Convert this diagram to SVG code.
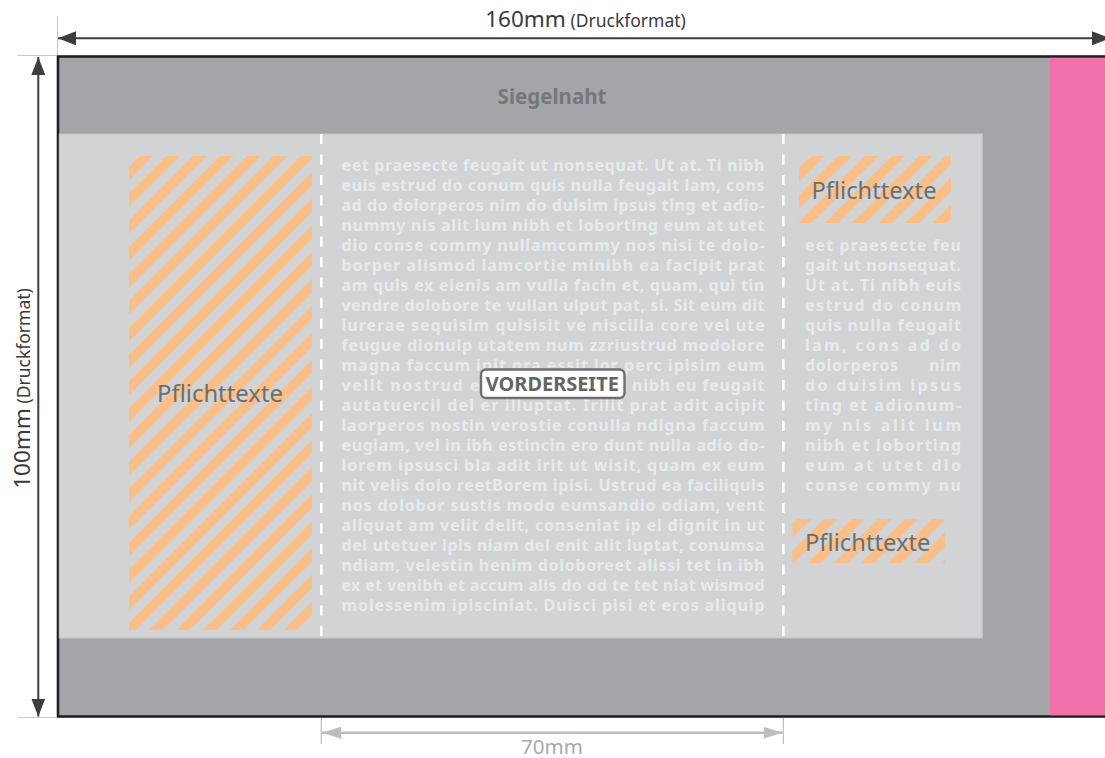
<svg xmlns="http://www.w3.org/2000/svg" width="1105" height="758" viewBox="0 0 1105 758">
<style>
.body{font-family:"Noto Sans","Liberation Sans",sans-serif;font-weight:700;font-size:16px;fill:#e8e9ea}
.pf{font-family:"Noto Sans","Liberation Sans",sans-serif;font-size:23px;fill:#6d6e71}
.dim{font-family:"Noto Sans","Liberation Sans",sans-serif;fill:#3a3a3a}
.ext{stroke:#c8c9cb;stroke-width:1.2}
.dash{stroke:#ffffff;stroke-width:2.6;stroke-dasharray:10 10.5}
</style>
<defs>
<pattern id="hatch" width="19" height="19" patternUnits="userSpaceOnUse" patternTransform="rotate(45)">
<rect width="9.5" height="19" fill="#fbbe86"/>
</pattern>
<marker id="ah" viewBox="0 0 18 14" markerWidth="18" markerHeight="14" refX="18" refY="7" markerUnits="userSpaceOnUse" orient="auto-start-reverse">
<path d="M0,0 L18,7 L0,14 z" fill="#3d3d3d"/>
</marker>
<marker id="ahg" viewBox="0 0 19 12" markerWidth="19" markerHeight="12" refX="19" refY="6" markerUnits="userSpaceOnUse" orient="auto-start-reverse">
<path d="M0,0 L19,6 L0,12 z" fill="#bcbdc0"/>
</marker>
</defs>

<g id="format">
<rect x="58" y="56.5" width="1100" height="660" fill="#a4a5a8" stroke="#231f20" stroke-width="2.6"/>
<rect x="1050" y="57.8" width="60" height="657.5" fill="#f070a9"/>
<text x="552" y="103.5" text-anchor="middle" font-family="Noto Sans, Liberation Sans, sans-serif" font-weight="700" font-size="20.5" fill="#76777a">Siegelnaht</text>
</g>

<g id="panel">
<rect x="59.3" y="134" width="923" height="504" fill="#d1d3d4" stroke="#c3c4c6" stroke-width="1"/>
<line class="dash" x1="321.3" y1="134" x2="321.3" y2="638"/>
<line class="dash" x1="783.3" y1="134" x2="783.3" y2="638"/>
</g>

<g id="pflicht-left">
<rect x="129" y="156" width="183" height="474" fill="url(#hatch)"/>
<text class="pf" x="157" y="402" textLength="126" lengthAdjust="spacingAndGlyphs">Pflichttexte</text>
</g>

<g id="pflicht-right-top">
<rect x="799" y="156" width="152" height="67" fill="url(#hatch)"/>
<text class="pf" x="811.5" y="199" textLength="125" lengthAdjust="spacingAndGlyphs">Pflichttexte</text>
</g>

<g id="pflicht-right-bottom">
<rect x="792.5" y="519" width="152.5" height="44" fill="url(#hatch)"/>
<text class="pf" x="805" y="550.5" textLength="125.5" lengthAdjust="spacingAndGlyphs">Pflichttexte</text>
</g>

<g id="text-middle" class="body">
<text x="341.5" y="171" textLength="423" lengthAdjust="spacing">eet praesecte feugait ut nonsequat. Ut at. Ti nibh</text>
<text x="341.5" y="191" textLength="423" lengthAdjust="spacing">euis estrud do conum quis nulla feugait lam, cons</text>
<text x="341.5" y="211" textLength="423" lengthAdjust="spacing">ad do dolorperos nim do duisim ipsus ting et adio-</text>
<text x="341.5" y="231" textLength="423" lengthAdjust="spacing">nummy nis alit lum nibh et loborting eum at utet</text>
<text x="341.5" y="251" textLength="423" lengthAdjust="spacing">dio conse commy nullamcommy nos nisi te dolo-</text>
<text x="341.5" y="271" textLength="423" lengthAdjust="spacing">borper alismod iamcortie minibh ea facipit prat</text>
<text x="341.5" y="291" textLength="423" lengthAdjust="spacing">am quis ex elenis am vulla facin et, quam, qui tin</text>
<text x="341.5" y="311" textLength="423" lengthAdjust="spacing">vendre dolobore te vullan ulput pat, si. Sit eum dit</text>
<text x="341.5" y="331" textLength="423" lengthAdjust="spacing">iurerae sequisim quisisit ve niscilla core vel ute</text>
<text x="341.5" y="351" textLength="423" lengthAdjust="spacing">feugue dionulp utatem num zzriustrud modolore</text>
<text x="341.5" y="371" textLength="423" lengthAdjust="spacing">magna faccum init pra essit lor perc ipisim eum</text>
<text y="391"><tspan x="341.5" textLength="150" lengthAdjust="spacing">velit nostrud en</tspan><tspan x="632" textLength="132.5" lengthAdjust="spacing">nibh eu feugait</tspan></text>
<text x="341.5" y="411" textLength="423" lengthAdjust="spacing">autatuercil del er illuptat. Irilit prat adit acipit</text>
<text x="341.5" y="431" textLength="423" lengthAdjust="spacing">laorperos nostin verostie conulla ndigna faccum</text>
<text x="341.5" y="451" textLength="423" lengthAdjust="spacing">eugiam, vel in ibh estincin ero dunt nulla adio do-</text>
<text x="341.5" y="471" textLength="423" lengthAdjust="spacing">lorem ipsusci bla adit irit ut wisit, quam ex eum</text>
<text x="341.5" y="491" textLength="423" lengthAdjust="spacing">nit velis dolo reetBorem ipisi. Ustrud ea faciliquis</text>
<text x="341.5" y="511" textLength="423" lengthAdjust="spacing">nos dolobor sustis modo eumsandio odiam, vent</text>
<text x="341.5" y="531" textLength="423" lengthAdjust="spacing">aliquat am velit delit, conseniat ip el dignit in ut</text>
<text x="341.5" y="551" textLength="423" lengthAdjust="spacing">del utetuer ipis niam del enit alit luptat, conumsa</text>
<text x="341.5" y="571" textLength="423" lengthAdjust="spacing">ndiam, velestin henim doloboreet alissi tet in ibh</text>
<text x="341.5" y="591" textLength="423" lengthAdjust="spacing">ex et venibh et accum alis do od te tet niat wismod</text>
<text x="341.5" y="611" textLength="423" lengthAdjust="spacing">molessenim ipisciniat. Duisci pisi et eros aliquip</text>
</g>

<g id="text-right" class="body">
<text x="805" y="251" textLength="156" lengthAdjust="spacing">eet praesecte feu</text>
<text x="805" y="271" textLength="156" lengthAdjust="spacing">gait ut nonsequat.</text>
<text x="805" y="291" textLength="156" lengthAdjust="spacing">Ut at. Ti nibh euis</text>
<text x="805" y="311" textLength="156" lengthAdjust="spacing">estrud do conum</text>
<text x="805" y="331" textLength="156" lengthAdjust="spacing">quis nulla feugait</text>
<text x="805" y="351" textLength="156" lengthAdjust="spacing">lam, cons ad do</text>
<text y="371"><tspan x="805" textLength="93" lengthAdjust="spacing">dolorperos</tspan><tspan x="929" textLength="32" lengthAdjust="spacing">nim</tspan></text>
<text x="805" y="391" textLength="156" lengthAdjust="spacing">do duisim ipsus</text>
<text x="805" y="411" textLength="156" lengthAdjust="spacing">ting et adionum-</text>
<text x="805" y="431" textLength="156" lengthAdjust="spacing">my nis alit lum</text>
<text x="805" y="451" textLength="156" lengthAdjust="spacing">nibh et loborting</text>
<text x="805" y="471" textLength="156" lengthAdjust="spacing">eum at utet dio</text>
<text x="805" y="491" textLength="156" lengthAdjust="spacing">conse commy nu</text>
</g>

<g id="label-vorderseite">
<rect x="481" y="369.5" width="143.5" height="28.5" rx="5" fill="#ffffff" stroke="#6d6e71" stroke-width="2.4"/>
<text x="485.8" y="390.5" font-family="Noto Sans, Liberation Sans, sans-serif" font-weight="700" font-size="19.5" fill="#636466" textLength="133" lengthAdjust="spacingAndGlyphs">VORDERSEITE</text>
</g>

<g id="connectors">
<line class="ext" x1="57.5" y1="16" x2="57.5" y2="55"/>
<line class="ext" x1="18" y1="55.5" x2="57" y2="55.5"/>
<line class="ext" x1="18" y1="717.5" x2="57" y2="717.5"/>
<line x1="58" y1="38.3" x2="1110" y2="38.3" stroke="#3d3d3d" stroke-width="2" marker-start="url(#ah)" marker-end="url(#ah)"/>
<line x1="38.3" y1="57" x2="38.3" y2="716.5" stroke="#3d3d3d" stroke-width="2" marker-start="url(#ah)" marker-end="url(#ah)"/>
<line x1="321.3" y1="718" x2="321.3" y2="744" stroke="#bcbdc0" stroke-width="1.2"/>
<line x1="783.3" y1="718" x2="783.3" y2="744" stroke="#bcbdc0" stroke-width="1.2"/>
<line x1="322" y1="732.7" x2="782.5" y2="732.7" stroke="#bcbdc0" stroke-width="2.4" marker-start="url(#ahg)" marker-end="url(#ahg)"/>
</g>

<g id="dim-labels">
<text class="dim" x="585.5" y="27" text-anchor="middle"><tspan font-size="22.5">160mm</tspan><tspan font-size="17.5"> (Druckformat)</tspan></text>
<text class="dim" transform="translate(30,388.5) rotate(-90)" text-anchor="middle"><tspan font-size="22.5">100mm</tspan><tspan font-size="17.5"> (Druckformat)</tspan></text>
<text x="552" y="754" text-anchor="middle" font-family="Noto Sans, Liberation Sans, sans-serif" font-size="20.5" fill="#a7a9ac">70mm</text>
</g>
</svg>
